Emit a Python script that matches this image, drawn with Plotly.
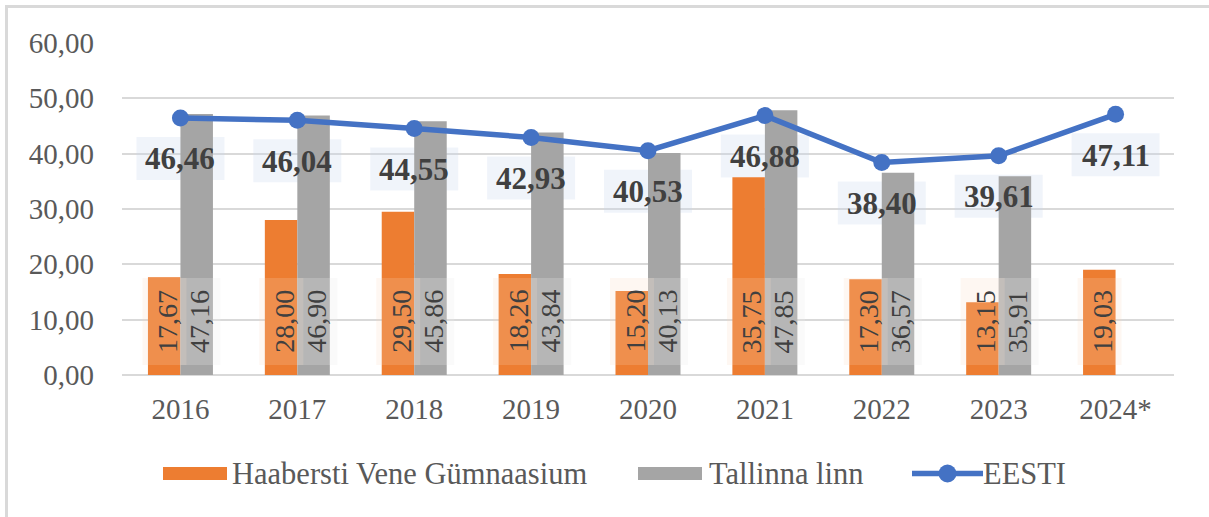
import plotly.graph_objects as go

categories = ["2016", "2017", "2018", "2019", "2020", "2021", "2022", "2023", "2024*"]
haabersti = [17.67, 28.00, 29.50, 18.26, 15.20, 35.75, 17.30, 13.15, 19.03]
tallinn = [47.16, 46.90, 45.86, 43.84, 40.13, 47.85, 36.57, 35.91, None]
eesti = [46.46, 46.04, 44.55, 42.93, 40.53, 46.88, 38.40, 39.61, 47.11]
y_ticks = [0, 10, 20, 30, 40, 50, 60]

ORANGE = "#ED7D31"
GRAY = "#A5A5A5"
BLUE = "#4472C4"
TEXT = "#595959"
DARK = "#404040"
FONT = "Liberation Serif, Times New Roman, serif"

W, H = 1209, 517
L, R, T, B = 122, 35, 43, 142
PW, PH = W - L - R, H - T - B


def fmt(v):
    return f"{v:.2f}".replace(".", ",")


def px_x(px):
    return (px - L) / PW


def px_y(py):
    return (H - B - py) / PH


fig = go.Figure()
fig.add_trace(go.Bar(x=categories, y=haabersti, name="Haabersti Vene Gümnaasium",
                     marker=dict(color=ORANGE, line=dict(width=0)), showlegend=False,
                     hoverinfo="x+y"))
fig.add_trace(go.Bar(x=categories, y=tallinn, name="Tallinna linn",
                     marker=dict(color=GRAY, line=dict(width=0)), showlegend=False,
                     hoverinfo="x+y"))
fig.add_trace(go.Scatter(x=categories, y=eesti, name="EESTI", mode="lines+markers",
                         line=dict(color=BLUE, width=5.5),
                         marker=dict(color=BLUE, size=17), showlegend=False,
                         hoverinfo="x+y"))

shapes = []
annotations = []

# bar label boxes and texts (x given as category index)
for i, v in enumerate(haabersti):
    if v is None:
        continue
    shapes.append(dict(type="rect", layer="above", xref="x", yref="y",
                       xsizemode="pixel", ysizemode="pixel", xanchor=i, yanchor=0,
                       x0=-38, x1=6, y0=10, y1=97,
                       fillcolor="rgba(250,215,190,0.2)", line=dict(width=0)))
    annotations.append(dict(x=i, y=0, xref="x", yref="y", text=fmt(v), showarrow=False,
                            textangle=-90, xanchor="center", yanchor="middle",
                            xshift=-13, yshift=53.5,
                            font=dict(family=FONT, size=28, color=DARK)))
for i, v in enumerate(tallinn):
    if v is None:
        continue
    shapes.append(dict(type="rect", layer="above", xref="x", yref="y",
                       xsizemode="pixel", ysizemode="pixel", xanchor=i, yanchor=0,
                       x0=0, x1=40, y0=10, y1=97,
                       fillcolor="rgba(235,235,235,0.25)", line=dict(width=0)))
    annotations.append(dict(x=i, y=0, xref="x", yref="y", text=fmt(v), showarrow=False,
                            textangle=-90, xanchor="center", yanchor="middle",
                            xshift=19, yshift=53.5,
                            font=dict(family=FONT, size=28, color=DARK)))

# line label boxes and texts
for i, v in enumerate(eesti):
    shapes.append(dict(type="rect", layer="between", xref="x", yref="y",
                       xsizemode="pixel", ysizemode="pixel", xanchor=i, yanchor=v,
                       x0=-44, x1=44, y0=-62, y1=-19,
                       fillcolor="rgba(200,215,235,0.27)", line=dict(width=0)))
    annotations.append(dict(x=i, y=v, xref="x", yref="y", text="<b>" + fmt(v) + "</b>",
                            showarrow=False, xanchor="center", yanchor="middle",
                            yshift=-41,
                            font=dict(family=FONT, size=31, color=DARK)))

# outer frame (top and left edges)
shapes.append(dict(type="line", xref="paper", yref="paper",
                   x0=px_x(5), x1=px_x(W + 5), y0=px_y(6.5), y1=px_y(6.5),
                   line=dict(color="#D9D9D9", width=3)))
shapes.append(dict(type="line", xref="paper", yref="paper",
                   x0=px_x(6.5), x1=px_x(6.5), y0=px_y(5), y1=px_y(H + 5),
                   line=dict(color="#D9D9D9", width=3)))

# legend (drawn manually)
LEG_Y = 473.5
legend_items = [
    ("rect", ORANGE, 163, 227, 230, "Haabersti Vene Gümnaasium"),
    ("rect", GRAY, 638, 702, 707, "Tallinna linn"),
    ("line", BLUE, 912, 983, 981, "EESTI"),
]
for kind, col, x0, x1, tx, label in legend_items:
    if kind == "rect":
        shapes.append(dict(type="rect", xref="paper", yref="paper",
                           x0=px_x(x0), x1=px_x(x1), y0=px_y(LEG_Y + 6.5), y1=px_y(LEG_Y - 6.5),
                           fillcolor=col, line=dict(width=0)))
    else:
        shapes.append(dict(type="line", xref="paper", yref="paper",
                           x0=px_x(x0), x1=px_x(x1), y0=px_y(LEG_Y), y1=px_y(LEG_Y),
                           line=dict(color=col, width=5.5)))
        cx = (x0 + x1) / 2
        shapes.append(dict(type="circle", xref="paper", yref="paper",
                           x0=px_x(cx - 9), x1=px_x(cx + 9), y0=px_y(LEG_Y + 9), y1=px_y(LEG_Y - 9),
                           fillcolor=col, line=dict(width=0)))
    annotations.append(dict(x=px_x(tx), y=px_y(LEG_Y), xref="paper", yref="paper",
                            text=label, showarrow=False, xanchor="left", yanchor="middle",
                            font=dict(family=FONT, size=30.5, color=TEXT)))

fig.update_layout(
    width=W, height=H,
    margin=dict(l=L, r=R, t=T, b=B, pad=0),
    paper_bgcolor="white", plot_bgcolor="white",
    barmode="group", bargap=0.444, bargroupgap=0,
    separators=", ",
    showlegend=False,
    shapes=shapes,
    annotations=annotations,
    xaxis=dict(type="category", range=[-0.5, len(categories) - 0.5],
               showgrid=False, showline=False, zeroline=False,
               ticks="", ticklabelstandoff=14,
               tickfont=dict(family=FONT, size=29, color=TEXT)),
    yaxis=dict(range=[0, 60], tickvals=y_ticks, tickformat=".2f",
               showgrid=True, gridcolor="#D9D9D9", gridwidth=1.8,
               zeroline=True, zerolinecolor="#D9D9D9", zerolinewidth=1.8,
               showline=False, ticks="", ticklabelstandoff=27,
               tickfont=dict(family=FONT, size=29, color=TEXT)),
)

fig.write_html("out.html",
               config={"displayModeBar": False},
               post_script="document.body.style.margin='0';document.body.style.overflow='hidden';")
